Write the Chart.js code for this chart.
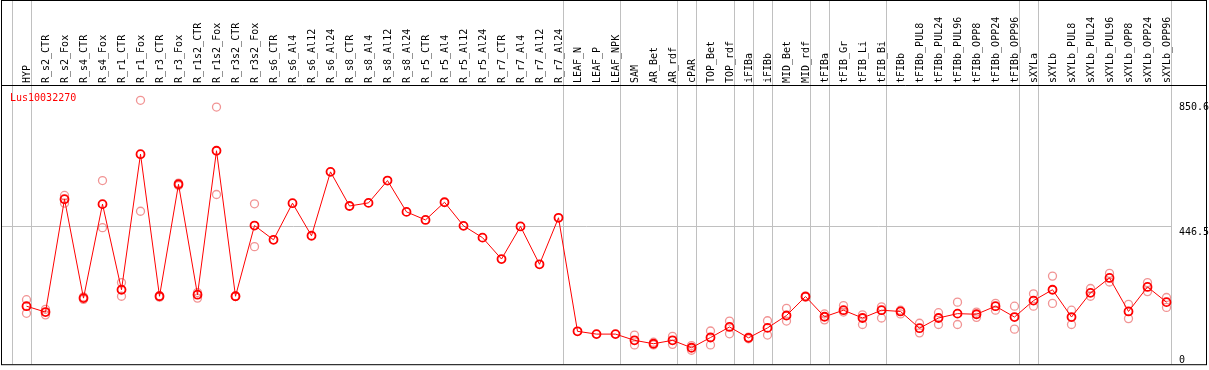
<!DOCTYPE html>
<html>
<head>
<meta charset="utf-8">
<script src="https://cdn.jsdelivr.net/npm/chart.js@4/dist/chart.umd.min.js"></script>
<style>
  body { margin: 0; background: #fff; }
  #wrap { width: 1209px; height: 370px; }
</style>
</head>
<body>
<div id="wrap"><canvas id="exprChart" width="1209" height="370"></canvas></div>
<script>
const geneName = "Lus10032270";

const categories = [
  "HYP", "R_s2_CTR", "R_s2_Fox", "R_s4_CTR", "R_s4_Fox", "R_r1_CTR", "R_r1_Fox",
  "R_r3_CTR", "R_r3_Fox", "R_r1s2_CTR", "R_r1s2_Fox", "R_r3s2_CTR", "R_r3s2_Fox",
  "R_s6_CTR", "R_s6_Al4", "R_s6_Al12", "R_s6_Al24", "R_s8_CTR", "R_s8_Al4", "R_s8_Al12",
  "R_s8_Al24", "R_r5_CTR", "R_r5_Al4", "R_r5_Al12", "R_r5_Al24", "R_r7_CTR", "R_r7_Al4",
  "R_r7_Al12", "R_r7_Al24", "LEAF_N", "LEAF_P", "LEAF_NPK", "SAM", "AR_Bet", "AR_rdf",
  "cPAR", "TOP_Bet", "TOP_rdf", "iFIBa", "iFIBb", "MID_Bet", "MID_rdf", "tFIBa",
  "tFIB_Gr", "tFIB_Li", "tFIB_Bi", "tFIBb", "tFIBb_PUL8", "tFIBb_PUL24", "tFIBb_PUL96",
  "tFIBb_OPP8", "tFIBb_OPP24", "tFIBb_OPP96", "sXYLa", "sXYLb", "sXYLb_PUL8",
  "sXYLb_PUL24", "sXYLb_PUL96", "sXYLb_OPP8", "sXYLb_OPP24", "sXYLb_OPP96"
];

// mean expression per sample
const meanValues = [
  187, 168, 532, 213, 516, 240, 677, 219, 580, 224, 688, 219, 447,
  401, 519, 414, 620, 510, 520, 592, 491, 465, 522, 446, 408, 339, 444, 322, 472,
  106, 97, 97, 77, 66, 77, 53, 86, 120, 85, 117, 157, 218, 153,
  174, 149, 174, 170, 116, 149, 163, 161, 187, 152, 205, 240, 152,
  230, 278, 170, 249, 200
];

// replicates (upper / lower), null where only one sample
const repHigh = [
  208, 177, 544, 217, 592, 263, 850.6, 221, 584, 231, 829, 220, 517,
  null, null, null, null, null, null, null, null, null, null, null, null, null, null, null, null,
  null, null, null, 94, 71, 90, 60, 107, 139, 87, 140, 180, 220, 162,
  189, 159, 185, 174, 132, 166, 200, 168, 196, 187, 227, 284, 174,
  244, 293, 193, 263, 215
];
const repLow = [
  164, 159, 519, 209, 440, 219, 493, 216, 576, 213, 547, 218, 379,
  null, null, null, null, null, null, null, null, null, null, null, null, null, null, null, null,
  null, null, null, 62, 62, 64, 45, 62, 98, 82, 94, 139, 216, 143,
  168, 128, 149, 162, 101, 128, 128, 151, 174, 113, 187, 196, 128,
  219, 265, 147, 234, 183
];

const yTickValues = [0, 446.5, 850.6];
const yGridValues = [446.5];
// index of last sample in each group (-1 = before the first one)
const groupEnds = [-1, 0, 28, 31, 34, 35, 37, 38, 39, 41, 42, 45, 52, 53, 60];

const monoFont = "10px 'DejaVu Sans Mono', monospace";

const framePlugin = {
  id: "frame",
  beforeDatasetsDraw(chart) {
    const { ctx, chartArea, scales } = chart;
    const x = scales.x, y = scales.y;
    ctx.save();
    ctx.strokeStyle = "#c0c0c0";
    ctx.lineWidth = 1;
    const lastSep = Math.round(x.getPixelForValue(groupEnds[groupEnds.length - 1]) + 4) + 0.5;
    yGridValues.forEach((v) => {
      const py = Math.round(y.getPixelForValue(v)) + 0.5;
      ctx.beginPath();
      ctx.moveTo(1, py);
      ctx.lineTo(lastSep, py);
      ctx.stroke();
    });
    groupEnds.forEach((i) => {
      const px = Math.round(x.getPixelForValue(i) + 4) + 0.5;
      ctx.beginPath();
      ctx.moveTo(px, 0);
      ctx.lineTo(px, chartArea.bottom);
      ctx.stroke();
    });
    ctx.restore();
  },
  afterDraw(chart) {
    const { ctx, chartArea, scales } = chart;
    const right = chart.width - 2.5;
    ctx.save();
    ctx.strokeStyle = "#000";
    ctx.lineWidth = 1;
    ctx.strokeRect(1.5, 0.5, right - 1.5, chartArea.bottom);
    ctx.beginPath();
    ctx.moveTo(1.5, chartArea.top + 0.5);
    ctx.lineTo(right, chartArea.top + 0.5);
    ctx.stroke();

    ctx.font = monoFont;
    ctx.textBaseline = "middle";
    ctx.textAlign = "left";
    ctx.fillStyle = "#ff0000";
    ctx.fillText(geneName, 10, chartArea.top + 13);

    // value labels on the right
    ctx.fillStyle = "#000";
    yTickValues.forEach((v) => {
      let py = scales.y.getPixelForValue(v) + 7;
      py = Math.min(py, chartArea.bottom - 4);
      ctx.fillText(String(v), chartArea.right + 3, py);
    });
    ctx.restore();
  },
};

const ctx = document.getElementById("exprChart").getContext("2d");

const exprChart = new Chart(ctx, {
  type: "line",
  data: {
    labels: categories,
    datasets: [
      {
        label: "mean",
        data: meanValues,
        borderColor: "#ff0000",
        borderWidth: 1,
        pointStyle: "circle",
        pointRadius: 4,
        pointBorderWidth: 1.8,
        pointBorderColor: "#ff0000",
        pointBackgroundColor: "rgba(255,255,255,0)",
        tension: 0,
      },
      {
        label: "rep1",
        data: repHigh,
        showLine: false,
        pointRadius: 4,
        pointBorderWidth: 1.3,
        pointBorderColor: "rgba(230,60,60,0.55)",
        pointBackgroundColor: "rgba(255,255,255,0)",
      },
      {
        label: "rep2",
        data: repLow,
        showLine: false,
        pointRadius: 4,
        pointBorderWidth: 1.3,
        pointBorderColor: "rgba(230,60,60,0.55)",
        pointBackgroundColor: "rgba(255,255,255,0)",
      },
    ],
  },
  options: {
    responsive: false,
    animation: false,
    devicePixelRatio: 1,
    layout: {
      padding: { left: 17, right: 0, top: 0, bottom: 1 },
    },
    plugins: {
      legend: { display: false },
      tooltip: { enabled: false },
    },
    scales: {
      x: {
        type: "category",
        position: "top",
        offset: true,
        grid: { display: false },
        border: { display: false },
        ticks: {
          autoSkip: false,
          minRotation: 90,
          maxRotation: 90,
          padding: -6,
          labelOffset: 13,
          color: "#000",
          font: { family: "'DejaVu Sans Mono', monospace", size: 10 },
        },
        afterFit: (scale) => {
          scale.height = 85;
        },
      },
      y: {
        position: "right",
        min: 0,
        max: 900,
        grid: { display: false },
        border: { display: false },
        ticks: { display: false },
        afterFit: (scale) => {
          scale.width = 33;
        },
      },
    },
  },
  plugins: [framePlugin],
});
</script>
</body>
</html>
